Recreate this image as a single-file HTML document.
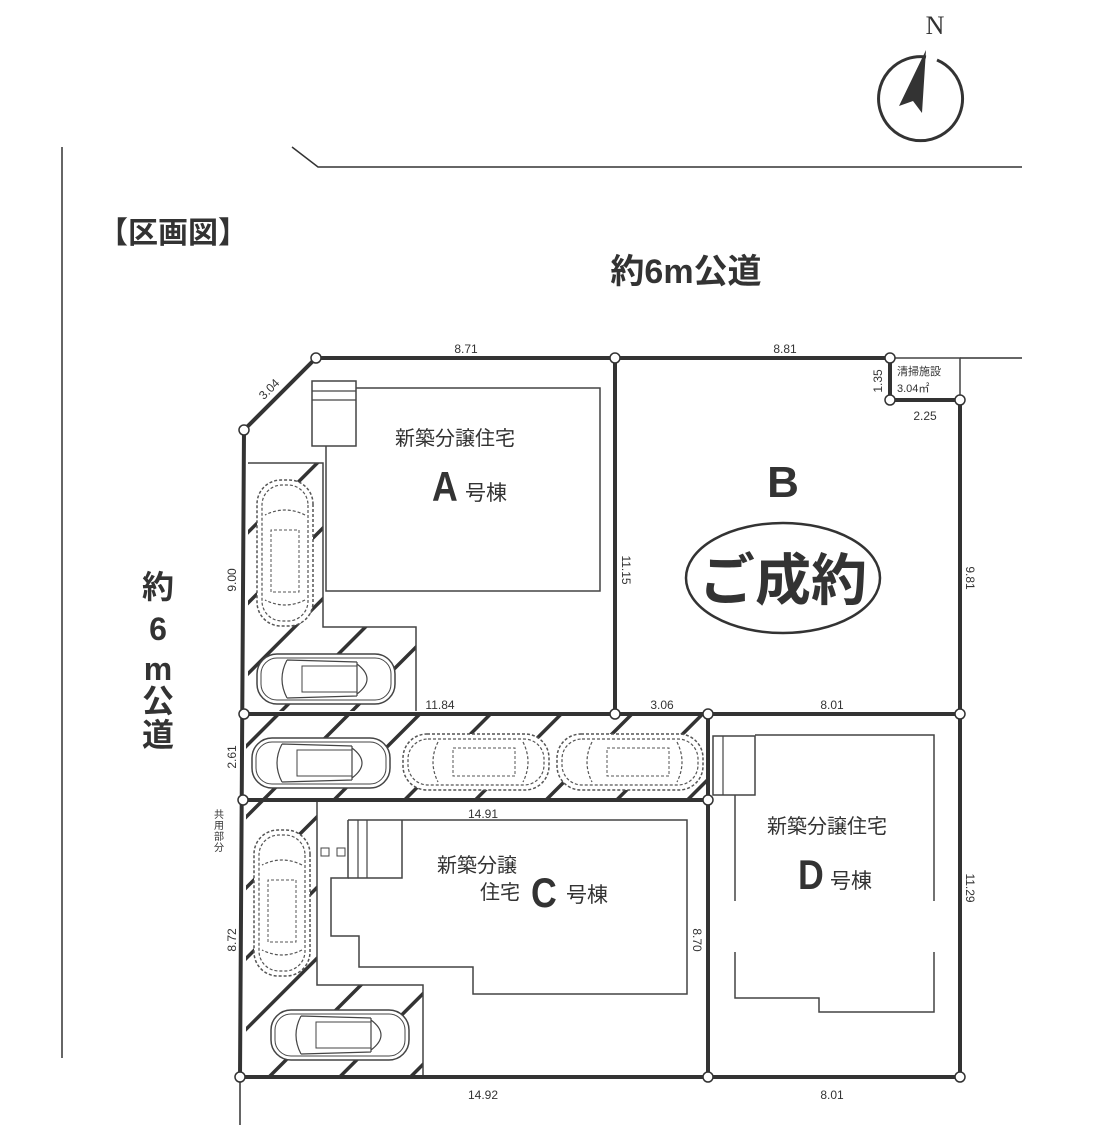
<!DOCTYPE html>
<html><head><meta charset="utf-8"><style>
html,body{margin:0;padding:0;background:#fff}
svg{display:block}
text{font-family:"Liberation Sans","Noto Sans CJK JP",sans-serif;fill:#333}
</style></head><body>
<svg width="1094" height="1138" viewBox="0 0 1094 1138" xmlns="http://www.w3.org/2000/svg">
<defs>
<pattern id="h" patternUnits="userSpaceOnUse" width="50" height="50" patternTransform="rotate(-45)">
<rect x="0" y="0" width="50" height="3.5" fill="#333"/>
</pattern>
<clipPath id="c1"><polygon points="248,463 323,463 323,627 416,627 416,711 248,711"/></clipPath>
<clipPath id="c2"><rect x="246" y="716" width="462" height="82"/></clipPath>
<clipPath id="c3"><polygon points="246,802 317,802 317,985 423,985 423,1075 246,1075"/></clipPath>
<g id="car">
<rect x="0" y="0" width="138" height="50" rx="20" fill="#fff" stroke="#444" stroke-width="1.5"/>
<rect x="4" y="4" width="130" height="42" rx="16" fill="none" stroke="#444" stroke-width="1"/>
<path d="M30,6 Q20,25 30,44 M30,6 L100,8 M30,44 L100,42 M100,8 L100,42 M100,10 Q120,25 100,40" fill="none" stroke="#444" stroke-width="1.2"/>
<rect x="45" y="12" width="55" height="26" fill="none" stroke="#444" stroke-width="1"/>
</g>
<g id="dcar">
<rect x="0" y="0" width="146" height="56" rx="24" fill="#fff" stroke="#555" stroke-width="1.5" stroke-dasharray="3,2"/>
<rect x="5" y="5" width="136" height="46" rx="20" fill="none" stroke="#555" stroke-width="1.2" stroke-dasharray="3,2"/>
<rect x="50" y="14" width="62" height="28" fill="none" stroke="#555" stroke-width="1" stroke-dasharray="3,2"/>
<path d="M35,8 Q25,28 35,48 M120,8 Q130,28 120,48" fill="none" stroke="#555" stroke-width="1.2" stroke-dasharray="3,2"/>
</g>
</defs>

<line x1="62" y1="147" x2="62" y2="1058" stroke="#333" stroke-width="1.5"/>
<polyline points="292,147 318,167 1022,167" fill="none" stroke="#333" stroke-width="1.5"/>
<line x1="960" y1="358" x2="1022" y2="358" stroke="#333" stroke-width="1.5"/>
<line x1="240" y1="1077" x2="240" y2="1125" stroke="#333" stroke-width="1.5"/>

<rect x="240" y="450" width="200" height="270" fill="url(#h)" clip-path="url(#c1)"/>
<rect x="240" y="710" width="480" height="95" fill="url(#h)" clip-path="url(#c2)"/>
<rect x="240" y="795" width="200" height="290" fill="url(#h)" clip-path="url(#c3)"/>

<polyline points="248,463 323,463 323,627 416,627 416,711" fill="none" stroke="#444" stroke-width="1.5"/>
<polyline points="317,800 317,985 423,985 423,1077" fill="none" stroke="#444" stroke-width="1.5"/>

<use href="#car" x="257" y="654"/>
<use href="#car" x="252" y="738"/>
<use href="#car" x="271" y="1010"/>
<use href="#dcar" x="403" y="734"/>
<use href="#dcar" x="557" y="734"/>
<use href="#dcar" transform="translate(313,480) rotate(90)"/>
<use href="#dcar" transform="translate(310,830) rotate(90)"/>

<rect x="312" y="381" width="44" height="65" fill="#fff" stroke="#444" stroke-width="1.5"/>
<line x1="312" y1="391" x2="356" y2="391" stroke="#444" stroke-width="1.2"/>
<line x1="312" y1="400" x2="356" y2="400" stroke="#444" stroke-width="1.2"/>
<polyline points="356,388 600,388 600,591 326,591 326,446" fill="none" stroke="#444" stroke-width="1.5"/>

<polyline points="348,820 687,820 687,994 473,994 473,967 359,967 359,936 331,936 331,878 348,878 348,820" fill="none" stroke="#444" stroke-width="1.5"/>
<polyline points="402,820 402,878 348,878" fill="none" stroke="#444" stroke-width="1.5"/>
<line x1="358" y1="820" x2="358" y2="878" stroke="#444" stroke-width="1.2"/>
<line x1="367" y1="820" x2="367" y2="878" stroke="#444" stroke-width="1.2"/>
<rect x="321" y="848" width="8" height="8" fill="none" stroke="#444"/>
<rect x="337" y="848" width="8" height="8" fill="none" stroke="#444"/>

<rect x="713" y="736" width="42" height="59" fill="#fff" stroke="#444" stroke-width="1.5"/>
<line x1="723" y1="736" x2="723" y2="795" stroke="#444" stroke-width="1.2"/>
<polyline points="755,735 934,735 934,901" fill="none" stroke="#444" stroke-width="1.5"/>
<polyline points="934,952 934,1012 819,1012 819,998 735,998 735,952" fill="none" stroke="#444" stroke-width="1.5"/>
<line x1="735" y1="795" x2="735" y2="901" stroke="#444" stroke-width="1.5"/>

<g stroke="#333" stroke-width="4" fill="none">
<polyline points="244,430 316,358 890,358 890,400 960,400 960,1077 240,1077 244,430"/>
<line x1="615" y1="358" x2="615" y2="714"/>
<line x1="244" y1="714" x2="960" y2="714"/>
<line x1="243" y1="800" x2="708" y2="800"/>
<line x1="708" y1="714" x2="708" y2="1077"/>
</g>
<polyline points="890,358 960,358 960,400" fill="none" stroke="#444" stroke-width="1.5"/>
<g fill="#fff" stroke="#333" stroke-width="1.5">
<circle cx="316" cy="358" r="5"/><circle cx="244" cy="430" r="5"/><circle cx="615" cy="358" r="5"/>
<circle cx="890" cy="358" r="5"/><circle cx="890" cy="400" r="5"/><circle cx="960" cy="400" r="5"/>
<circle cx="244" cy="714" r="5"/><circle cx="615" cy="714" r="5"/><circle cx="708" cy="714" r="5"/>
<circle cx="960" cy="714" r="5"/><circle cx="243" cy="800" r="5"/><circle cx="708" cy="800" r="5"/>
<circle cx="240" cy="1077" r="5"/><circle cx="708" cy="1077" r="5"/><circle cx="960" cy="1077" r="5"/>
</g>

<text x="783" y="497" font-size="44" font-weight="bold" text-anchor="middle">B</text>
<ellipse cx="783" cy="578" rx="97" ry="55" fill="none" stroke="#333" stroke-width="2.5"/>
<text x="783" y="600" font-size="56" font-weight="bold" text-anchor="middle">ご成約</text>

<text x="455" y="445" font-size="20" text-anchor="middle">新築分譲住宅</text>
<text transform="translate(432,501) scale(0.85,1)" font-size="42" font-weight="bold">A</text><text x="465" y="500" font-size="21">号棟</text>
<text x="477" y="872" font-size="20" text-anchor="middle">新築分譲</text>
<text x="520" y="899" font-size="20" text-anchor="end">住宅</text>
<text transform="translate(531,907) scale(0.85,1)" font-size="42" font-weight="bold">C</text><text x="566" y="902" font-size="21">号棟</text>
<text x="827" y="833" font-size="20" text-anchor="middle">新築分譲住宅</text>
<text transform="translate(798,889) scale(0.85,1)" font-size="42" font-weight="bold">D</text><text x="830" y="888" font-size="21">号棟</text>

<g font-size="12">
<text x="466" y="353" text-anchor="middle">8.71</text>
<text x="785" y="353" text-anchor="middle">8.81</text>
<text transform="translate(272,392) rotate(-45)" text-anchor="middle">3.04</text>
<text transform="translate(236,580) rotate(-90)" text-anchor="middle">9.00</text>
<text transform="translate(622,570) rotate(90)" text-anchor="middle">11.15</text>
<text transform="translate(966,578) rotate(90)" text-anchor="middle">9.81</text>
<text x="440" y="709" text-anchor="middle">11.84</text>
<text x="662" y="709" text-anchor="middle">3.06</text>
<text x="832" y="709" text-anchor="middle">8.01</text>
<text transform="translate(236,757) rotate(-90)" text-anchor="middle">2.61</text>
<text x="483" y="818" text-anchor="middle">14.91</text>
<text transform="translate(236,940) rotate(-90)" text-anchor="middle">8.72</text>
<text transform="translate(693,940) rotate(90)" text-anchor="middle">8.70</text>
<text transform="translate(966,888) rotate(90)" text-anchor="middle">11.29</text>
<text x="483" y="1099" text-anchor="middle">14.92</text>
<text x="832" y="1099" text-anchor="middle">8.01</text>
<text transform="translate(882,381) rotate(-90)" text-anchor="middle">1.35</text>
<text x="925" y="420" text-anchor="middle">2.25</text>
<text x="897" y="375" font-size="11">清掃施設</text>
<text x="897" y="392" font-size="11">3.04㎡</text>
</g>
<g font-size="10" text-anchor="middle">
<text x="219" y="818">共</text><text x="219" y="829">用</text><text x="219" y="840">部</text><text x="219" y="851">分</text>
</g>

<text x="98" y="243" font-size="30" font-weight="bold">【区画図】</text>
<text x="686" y="283" font-size="34" font-weight="bold" text-anchor="middle">約6m公道</text>
<g font-size="32" font-weight="bold" text-anchor="middle">
<text x="158" y="598">約</text><text x="158" y="640">6</text><text x="158" y="680">m</text>
<text x="158" y="712">公</text><text x="158" y="746">道</text>
</g>

<text x="935" y="34" style="font-family:'Liberation Serif',serif" font-size="26" text-anchor="middle">N</text>
<path d="M926,57 A42,42 0 1 0 937,60" fill="none" stroke="#333" stroke-width="3"/>
<polygon points="926,50 899,106 913,101 922,113" fill="#333"/>
</svg>
</body></html>
